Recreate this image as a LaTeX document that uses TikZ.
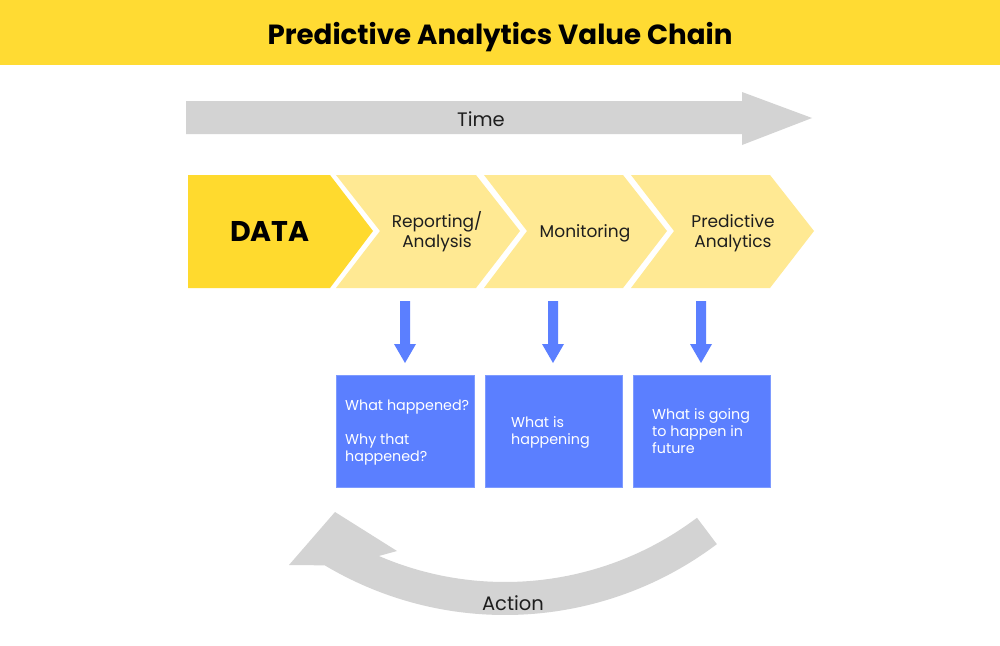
\documentclass[tikz,border=0pt]{standalone}
\usepackage{fontspec}
\setmainfont{Poppins}
\usetikzlibrary{calc}
\definecolor{titleyellow}{HTML}{FFDB33}
\definecolor{datayellow}{HTML}{FFDA2E}
\definecolor{lightyellow}{HTML}{FFE993}
\definecolor{greyarrow}{HTML}{D3D3D3}
\definecolor{bluebox}{HTML}{5B7FFF}
\definecolor{blueedge}{HTML}{7E9BFF}
\definecolor{darktext}{HTML}{1E1E1E}
\tikzset{
  chev/.style={fill=lightyellow, draw=none},
  chevtext/.style={font=\fontsize{17}{20}\selectfont, text=darktext, align=center},
  qbox/.style={fill=bluebox, draw=blueedge, line width=0.8pt},
  qtext/.style={font=\fontsize{14.3}{17}\selectfont, text=white, align=left, anchor=north west, inner sep=0pt},
  downarrow/.style={fill=bluebox, draw=none},
  greyshape/.style={fill=greyarrow, draw=none},
  greytext/.style={font=\fontsize{19.5}{22}\selectfont, text=darktext}
}
\begin{document}
\begin{tikzpicture}[x=1pt,y=1pt]
\useasboundingbox (0,0) rectangle (1000,-645);
\fill[white] (0,0) rectangle (1000,-645);
% title band
\fill[titleyellow] (0,0) rectangle (1000,-65);
\node[font=\fontsize{27.7}{32}\selectfont\bfseries] (title) at (500,-37) {Predictive Analytics Value Chain};
% time arrow
\fill[greyshape] (186,-101) -- (742,-101) -- (742,-92) -- (812,-118) -- (742,-145) -- (742,-134) -- (186,-134) -- cycle;
\node[greytext] (time) at (481,-119) {Time};
% chevrons
\fill[datayellow] (188,-175) -- (330,-175) -- (373,-231) -- (330,-288) -- (188,-288) -- cycle;
\fill[chev] (336,-175) -- (476,-175) -- (520,-231) -- (476,-288) -- (336,-288) -- (380,-231) -- cycle;
\fill[chev] (484,-175) -- (623,-175) -- (667,-231) -- (623,-288) -- (484,-288) -- (527,-231) -- cycle;
\fill[chev] (631,-175) -- (770,-175) -- (814,-231) -- (770,-288) -- (631,-288) -- (674,-231) -- cycle;
\node[font=\fontsize{28.5}{32}\selectfont\bfseries] (data) at (270,-231) {DATA};
\node[chevtext] (rep) at (437,-232) {Reporting/\\Analysis};
\node[chevtext] (mon) at (585,-233) {Monitoring};
\node[chevtext] (pred) at (733,-233) {Predictive\\Analytics};
% blue down arrows
\foreach \cx/\nm in {405/a1,553/a2,701/a3}{
  \fill[downarrow] (\cx-5,-301) -- (\cx+5,-301) -- (\cx+5,-344) -- (\cx+11,-344) -- (\cx,-363) -- (\cx-11,-344) -- (\cx-5,-344) -- cycle;
}
% boxes
\draw[qbox] (336,-375) rectangle (474,-487);
\draw[qbox] (485,-375) rectangle (622,-487);
\draw[qbox] (633,-375) rectangle (770,-487);
\node[qtext] (q1) at (345,-400) {What happened?\\[17pt]Why that\\happened?};
\node[qtext] (q2) at (511,-416) {What is\\happening};
\node[qtext] (q3) at (652,-408) {What is going\\to happen in\\future};
% action arrow
\coordinate (c) at (505,-263);
\fill[greyshape] ($(c)+(-53:352)$) arc[start angle=-53, end angle=-120.8, radius=352]
  -- (289,-565) -- (335,-512) -- (397,-551) -- ($(c)+(-113.3:319)$)
  arc[start angle=-113.3, end angle=-53, radius=319] -- cycle;
\node[greytext] (action) at (513,-603) {Action};
\end{tikzpicture}
\end{document}
